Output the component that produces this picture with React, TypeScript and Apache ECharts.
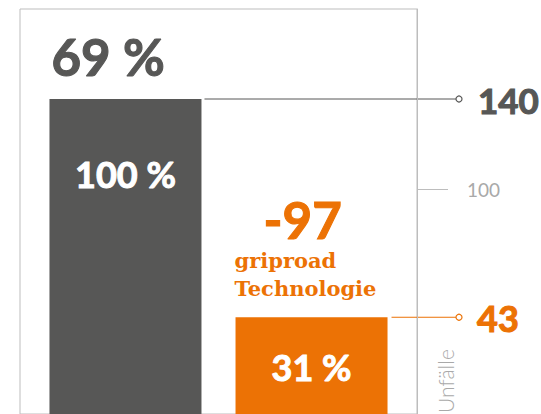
import React, { useEffect, useRef } from 'react';
import * as echarts from 'echarts';

const categories = ['Unfälle'];
const seriesNames = ['ohne griproad', 'griproad Technologie'];
const accidents = [140, 43];
const axisTicks = [100];
const axisTitle = 'Unfälle';
const techLabel = 'griproad\nTechnologie';

const DARK = '#575756';
const ORANGE = '#ec7205';
const FRAME = '#bdbdbd';
const TICKTXT = '#a9a9a9';
const FONT = 'Lato, "Noto Sans", sans-serif';

export default function App() {
  const ref = useRef<HTMLDivElement>(null);
  useEffect(() => {
    document.body.style.margin = '0';
    const chart = echarts.init(ref.current!, null, { renderer: 'svg' });
    const base = accidents[0];
    const pct = (v: number) => Math.round((v / base) * 100) + ' %';
    const reduction = accidents[0] - accidents[1];
    const reductionPct = Math.round((reduction / base) * 100) + ' %';

    const barLabel = (offset: number) => ({
      show: true,
      position: ['50%', offset],
      align: 'center',
      verticalAlign: 'middle',
      color: '#ffffff',
      fontFamily: FONT,
      fontWeight: 'bold',
      fontSize: 36,
      textBorderColor: '#ffffff',
      textBorderWidth: 1,
      formatter: (p: any) => pct(p.value),
    });

    chart.setOption({
      animation: false,
      grid: {
        left: 20, right: 124, top: 9, bottom: -3.5,
        show: true, borderColor: FRAME, borderWidth: 1, backgroundColor: 'transparent',
      },
      xAxis: { type: 'category', data: categories, show: false },
      yAxis: {
        type: 'value', position: 'right', min: 0, max: 180,
        axisLine: { show: true, lineStyle: { color: FRAME, width: 1 } },
        axisTick: { show: true, length: 31, customValues: axisTicks, lineStyle: { color: FRAME, width: 1 } },
        axisLabel: { show: true, customValues: axisTicks, color: TICKTXT, fontFamily: FONT, fontSize: 19, margin: 50 },
        splitLine: { show: false },
      },
      series: [
        {
          name: seriesNames[0], type: 'bar', data: [accidents[0]], barWidth: 152, barGap: '22.4%',
          itemStyle: { color: DARK }, label: barLabel(75),
        },
        {
          name: seriesNames[1], type: 'bar', data: [accidents[1]], barWidth: 152, barGap: '22.4%',
          itemStyle: { color: ORANGE }, label: barLabel(50),
        },
      ],
    });

    const yDark = chart.convertToPixel({ yAxisIndex: 0 }, accidents[0]) as number;
    const yOr = chart.convertToPixel({ yAxisIndex: 0 }, accidents[1]) as number;
    const model: any = (chart as any).getModel();
    const l0 = model.getSeriesByIndex(0).getData().getItemLayout(0);
    const l1 = model.getSeriesByIndex(1).getData().getItemLayout(0);
    const r0 = l0 ? l0.x + l0.width : 201;
    const r1 = l1 ? l1.x + l1.width : 387;
    const x0 = l0 ? l0.x : 49;
    const x1 = l1 ? l1.x : 235;
    const dotX = 459;

    const heavy = (text: string, x: number, y: number, size: number, color: string) => ({
      type: 'text', x, y,
      style: { text, fill: color, stroke: color, lineWidth: 1.1, font: `bold ${size}px ${FONT}`, align: 'left', verticalAlign: 'middle' },
    });

    chart.setOption({
      graphic: [
        heavy(reductionPct, x0 + 2, 56, 51, DARK),
        heavy('-' + reduction, x1 + 28, 219, 51, ORANGE),
        { type: 'text', x: x1 - 1, y: 246, style: { text: techLabel, fill: ORANGE, font: `bold 21px "DejaVu Serif", serif`, lineHeight: 28, align: 'left', verticalAlign: 'top' } },
        { type: 'line', shape: { x1: r0 + 3, y1: yDark, x2: dotX - 3, y2: yDark }, style: { stroke: DARK, lineWidth: 1 } },
        { type: 'circle', shape: { cx: dotX, cy: yDark, r: 3 }, style: { stroke: DARK, fill: '#fff', lineWidth: 1.2 } },
        heavy(String(accidents[0]), 478, yDark + 1, 35, DARK),
        { type: 'line', shape: { x1: r1 + 4, y1: yOr, x2: dotX - 3, y2: yOr }, style: { stroke: ORANGE, lineWidth: 1 } },
        { type: 'circle', shape: { cx: dotX, cy: yOr, r: 3 }, style: { stroke: ORANGE, fill: '#fff', lineWidth: 1.2 } },
        heavy(String(accidents[1]), 477, yOr + 1, 36, ORANGE),
        { type: 'text', x: 445, y: 413, rotation: Math.PI / 2, style: { text: axisTitle, fill: TICKTXT, font: `300 21px ${FONT}`, align: 'left', verticalAlign: 'middle' } },
      ],
    });

    return () => chart.dispose();
  }, []);
  return <div ref={ref} style={{ width: 541, height: 414 }} />;
}
